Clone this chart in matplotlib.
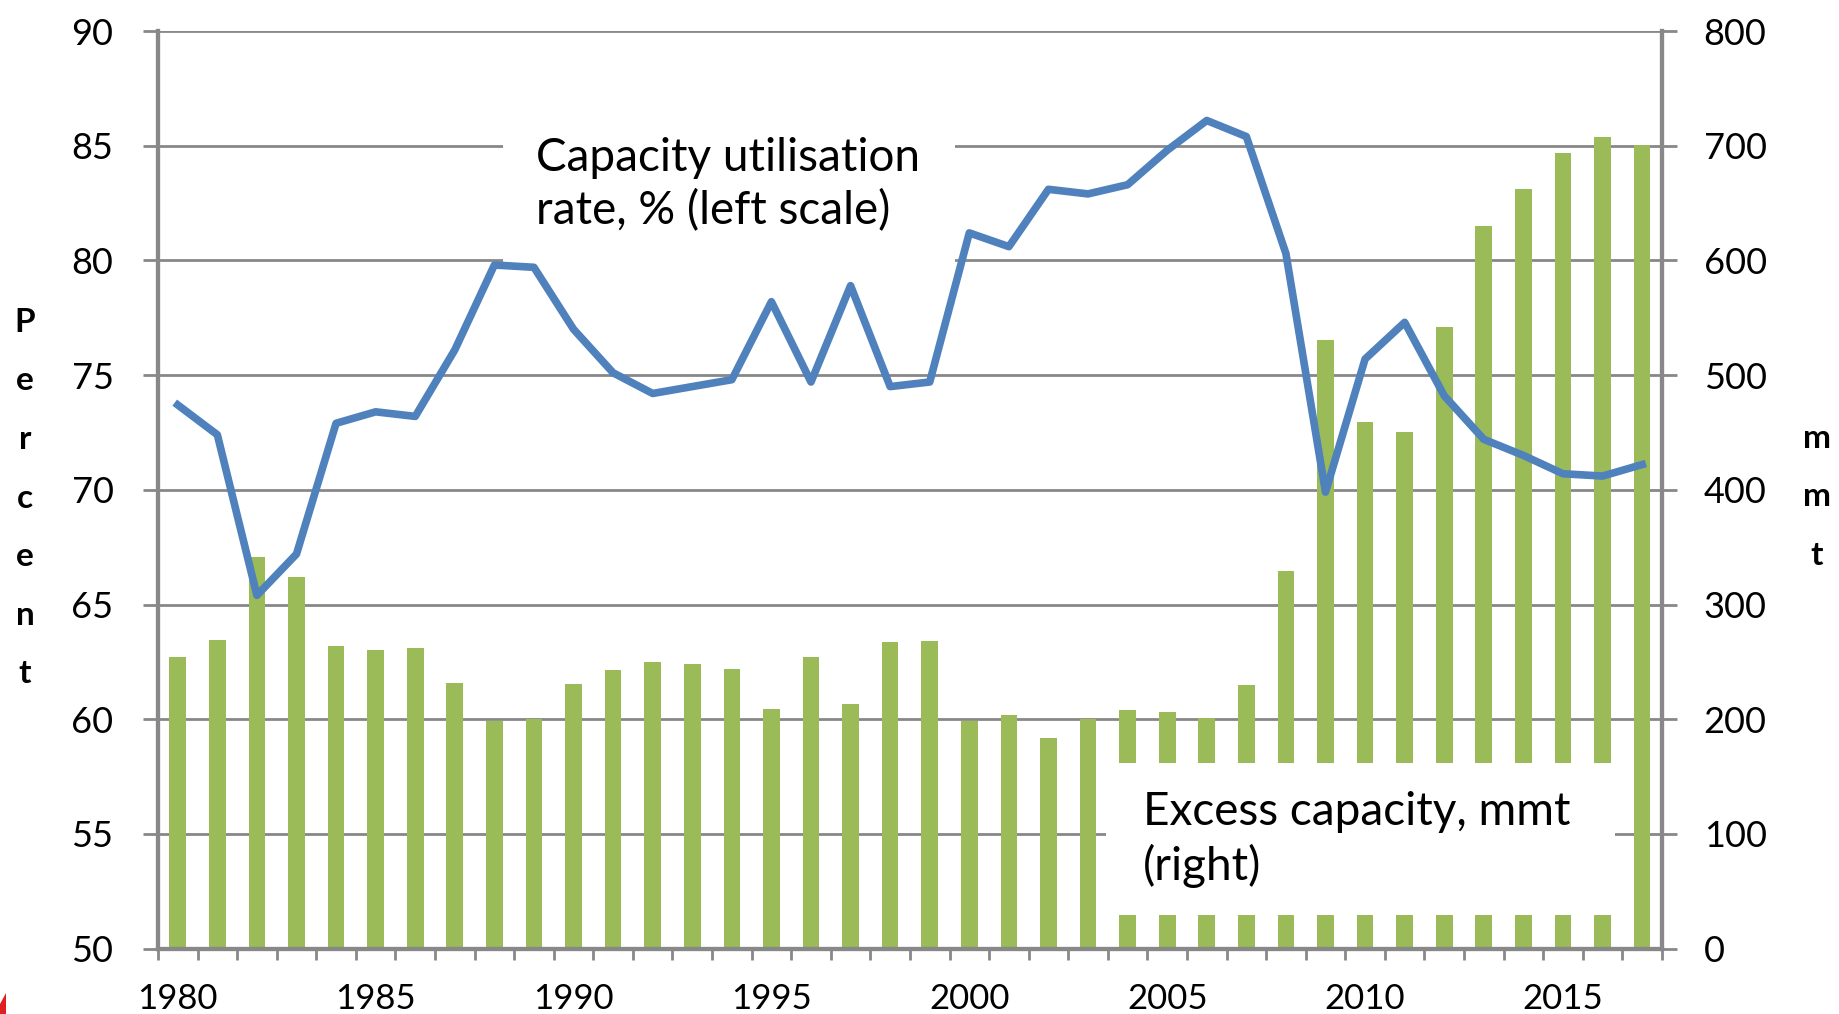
import matplotlib
matplotlib.use('Agg')
import matplotlib.pyplot as plt
from matplotlib.patches import Rectangle, Polygon
import numpy as np

# Data
years = list(range(1980, 2018))
utilisation = [73.7, 72.4, 65.4, 67.2, 72.9, 73.4, 73.2, 76.1, 79.8, 79.7,
               77.0, 75.1, 74.2, 74.5, 74.8, 78.2, 74.7, 78.9, 74.5, 74.7,
               81.2, 80.6, 83.1, 82.9, 83.3, 84.8, 86.1, 85.4, 80.3, 69.9,
               75.7, 77.3, 74.1, 72.2, 71.5, 70.7, 70.6, 71.1]
excess = [254, 269, 341, 324, 264, 260, 262, 232, 198, 200,
          231, 243, 250, 248, 244, 209, 254, 213, 267, 268,
          198, 204, 184, 200, 208, 206, 201, 230, 329, 531,
          459, 450, 542, 630, 662, 694, 708, 701]
left_ticks = [50, 55, 60, 65, 70, 75, 80, 85, 90]
right_ticks = [0, 100, 200, 300, 400, 500, 600, 700, 800]
year_labels = [1980, 1985, 1990, 1995, 2000, 2005, 2010, 2015]

plt.rcParams['font.family'] = ['Lato', 'DejaVu Sans']

GRID = '#888888'
GREEN = '#9bbb59'
BLUE = '#4f81bd'

fig = plt.figure(figsize=(18.39, 10.14), dpi=100)
ax2 = fig.add_axes([0.0859, 0.0645, 0.8178, 0.9049])
ax = ax2.twinx()
ax.set_zorder(ax2.get_zorder() + 1)
ax.patch.set_visible(False)

x = np.arange(len(years))

# bars (right scale)
ax2.bar(x, excess, width=0.42, color=GREEN, zorder=2)
ax2.set_ylim(0, 800)
ax2.set_xlim(-0.5, len(years) - 0.5)
ax2.set_yticks(right_ticks)
ax2.yaxis.tick_right()
ax2.yaxis.set_label_position('right')
ax2.grid(axis='y', color=GRID, linewidth=2.0, zorder=0)
ax2.set_axisbelow(True)

# line (left scale)
ax.plot(x, utilisation, color=BLUE, linewidth=5.5, zorder=5)
ax.set_ylim(50, 90)
ax.set_yticks(left_ticks)
ax.yaxis.tick_left()
ax.yaxis.set_label_position('left')

# x axis: year labels at bars, tick marks between categories
ax2.set_xticks([years.index(y) for y in year_labels])
ax2.set_xticklabels([str(y) for y in year_labels])
ax2.set_xticks(np.arange(-0.5, len(years)), minor=True)
ax2.tick_params(axis='x', which='major', length=0, pad=25, labelsize=25)
ax2.tick_params(axis='x', which='minor', length=8, width=2, color=GRID, direction='out')
ax2.tick_params(axis='y', which='major', length=11, width=2, color=GRID, pad=19,
                labelsize=26, direction='out')
ax.tick_params(axis='y', which='major', length=11, width=2, color=GRID, pad=21,
               labelsize=26, direction='out')
ax.tick_params(axis='x', which='both', bottom=False, labelbottom=False)

for a in (ax, ax2):
    for side in ('left', 'right', 'bottom'):
        a.spines[side].set_color(GRID)
        a.spines[side].set_linewidth(3)
    a.spines['top'].set_visible(False)

# text boxes with white background
ax2.add_patch(Rectangle((8.22, 592), 19.64 - 8.22, 140, facecolor='white',
                        edgecolor='none', zorder=3))
ax2.text(9.05, 708, 'Capacity utilisation\nrate, % (left scale)', fontsize=33,
         va='top', ha='left', linespacing=1.3, zorder=4)
ax2.add_patch(Rectangle((23.45, 29), 36.32 - 23.45, 133, facecolor='white',
                        edgecolor='none', zorder=3))
ax2.text(24.38, 137, 'Excess capacity, mmt\n(right)', fontsize=33,
         va='top', ha='left', linespacing=1.3, zorder=4)

# vertical stacked axis titles
fig.text(25 / 1839, 1 - 498 / 1014, '\n'.join('Percent'), fontsize=24,
         fontweight='bold', ha='center', va='center', linespacing=2.23)
fig.text(1817 / 1839, 1 - 497 / 1014, '\n'.join('mmt'), fontsize=24,
         fontweight='bold', ha='center', va='center', linespacing=2.23)

# small red mark in the bottom-left corner
fig.patches.append(Polygon([[0, 0], [6 / 1839, 0], [6 / 1839, 21 / 1014], [0, 10 / 1014]],
                           closed=True, transform=fig.transFigure, facecolor='#e02020',
                           edgecolor='none'))

fig.savefig('out.png', dpi=100)
